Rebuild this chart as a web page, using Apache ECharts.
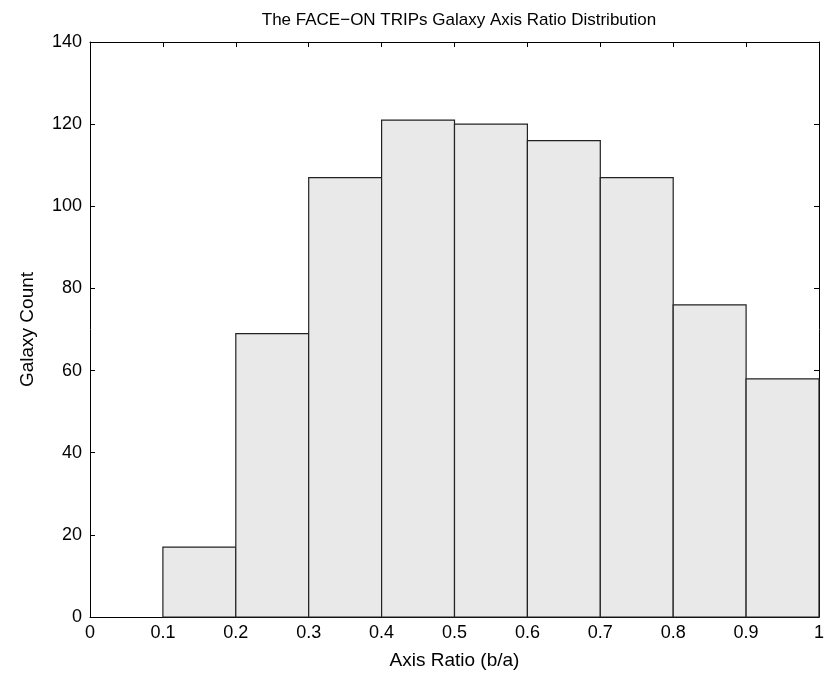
<!DOCTYPE html>
<html>
<head>
<meta charset="utf-8">
<script src="https://cdn.jsdelivr.net/npm/echarts@6/dist/echarts.min.js"></script>
<style>html,body{margin:0;padding:0;background:#fff}#c{width:825px;height:673px}</style>
</head>
<body>
<div id="c"></div>
<script>
const binStarts = [0.1, 0.2, 0.3, 0.4, 0.5, 0.6, 0.7, 0.8, 0.9];
const binWidth = 0.1;
const counts = [17, 69, 107, 121, 120, 116, 107, 76, 58];
const xTicks = [0, 0.1, 0.2, 0.3, 0.4, 0.5, 0.6, 0.7, 0.8, 0.9, 1];
const yTicks = [0, 20, 40, 60, 80, 100, 120, 140];

const font = "'Liberation Sans', Arial, Helvetica, sans-serif";
const data = binStarts.map((s, i) => [s, s + binWidth, counts[i]]);

const axisCommon = {
  axisLine: { show: true, onZero: false, lineStyle: { color: '#000', width: 1 } },
  axisTick: { show: true, inside: true, length: 5, lineStyle: { color: '#000' } },
  splitLine: { show: false }
};

const chart = echarts.init(document.getElementById('c'));
chart.setOption({
  animation: false,
  backgroundColor: '#fff',
  title: {
    text: 'The FACE\u2212ON TRIPs Galaxy Axis Ratio Distribution',
    left: 454, top: 7, textAlign: 'center',
    textStyle: { fontFamily: font, fontSize: 17, fontWeight: 'normal', color: '#000' }
  },
  grid: { left: 90, right: 6, top: 42, bottom: 56, containLabel: false, outerBoundsMode: 'none' },
  xAxis: [
    Object.assign({
      type: 'value', min: 0, max: 1, interval: 0.1, position: 'bottom',
      name: 'Axis Ratio (b/a)', nameLocation: 'middle', nameGap: 34,
      nameTextStyle: { fontFamily: font, fontSize: 19, color: '#000' },
      axisLabel: { fontFamily: font, fontSize: 18, color: '#000', margin: 7,
        formatter: v => { const r = Math.round(v * 10) / 10; return xTicks.includes(r) ? String(r) : ''; } }
    }, axisCommon),
    Object.assign({
      type: 'value', min: 0, max: 1, interval: 0.1, position: 'top',
      axisLabel: { show: false }
    }, axisCommon)
  ],
  yAxis: [
    Object.assign({
      type: 'value', min: 0, max: 140, interval: 20, position: 'left',
      name: 'Galaxy Count', nameLocation: 'middle', nameGap: 53, nameRotate: 90,
      nameTextStyle: { fontFamily: font, fontSize: 19, color: '#000' },
      axisLabel: { fontFamily: font, fontSize: 18, color: '#000', margin: 8,
        formatter: v => yTicks.includes(v) ? String(v) : '' }
    }, axisCommon),
    Object.assign({
      type: 'value', min: 0, max: 140, interval: 20, position: 'right',
      axisLabel: { show: false }
    }, axisCommon)
  ],
  series: [{
    type: 'custom',
    xAxisIndex: 0, yAxisIndex: 0,
    data: data,
    encode: { x: [0, 1], y: 2 },
    renderItem: function (params, api) {
      const p0 = api.coord([api.value(0), 0]);
      const p1 = api.coord([api.value(1), api.value(2)]);
      return {
        type: 'rect',
        shape: { x: p0[0], y: p1[1], width: p1[0] - p0[0], height: p0[1] - p1[1] },
        style: { fill: '#e9e9e9', stroke: '#222', lineWidth: 1.2 }
      };
    }
  }]
});
</script>
</body>
</html>
